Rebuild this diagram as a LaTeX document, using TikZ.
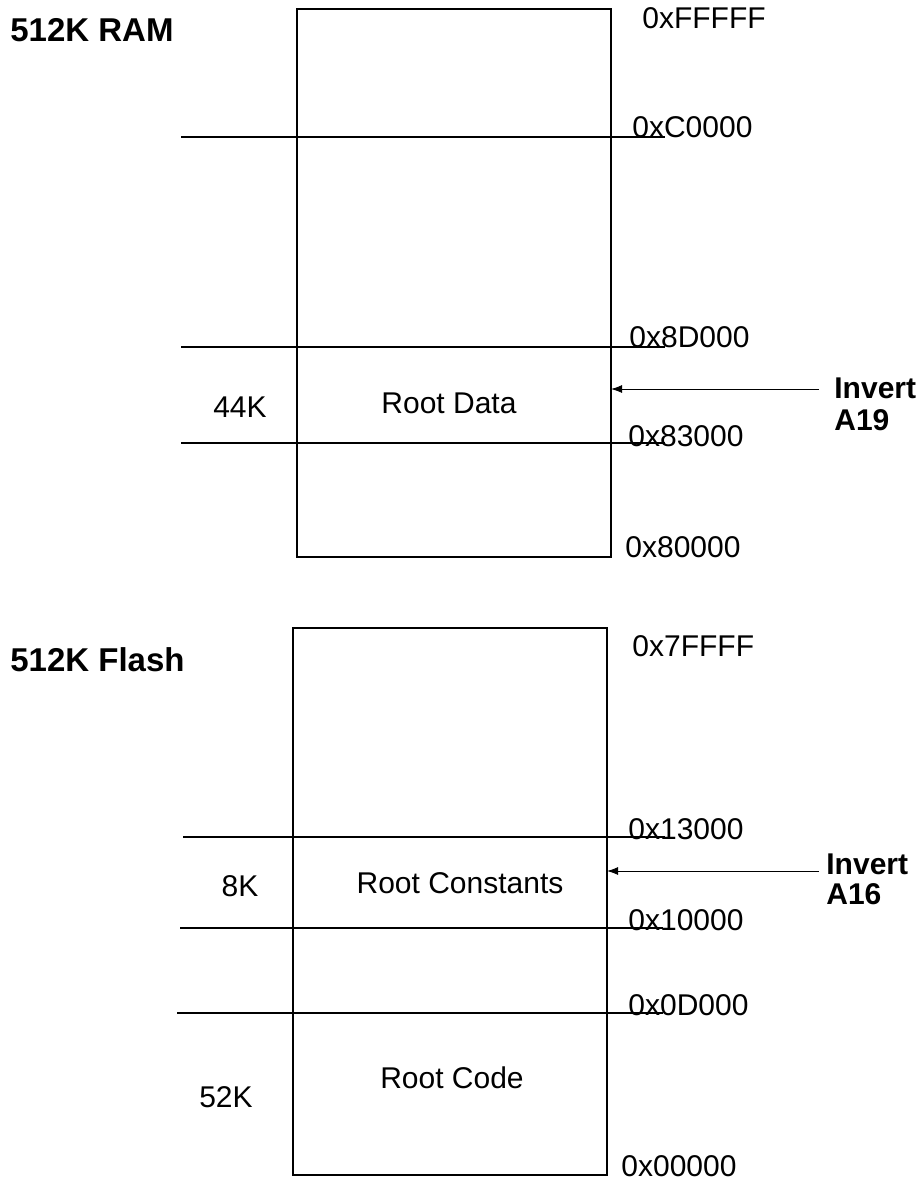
\documentclass[tikz,border=0pt]{standalone}
\usepackage{fontspec}
\setmainfont{Liberation Sans}
\usetikzlibrary{arrows.meta}

\begin{document}
\begin{tikzpicture}[x=0.5pt,y=-0.5pt,font=\fontsize{15}{17}\selectfont,
  bank/.style={draw,line width=0.6pt},
  cut/.style={line width=1pt},
  addr/.style={anchor=base west,inner sep=0pt},
  heading/.style={anchor=west,inner sep=0pt,font=\fontsize{16.5}{19}\selectfont\bfseries},
  invlabel/.style={anchor=west,inner sep=0pt,font=\fontsize{15}{18}\selectfont\bfseries},
  pin/.style={-{Latex[length=5.5pt,width=4pt]},line width=0.5pt}]
\useasboundingbox (0,0) rectangle (923,1180);

% RAM
\node[heading] (ramtitle) at (10,30) {512K RAM};
\draw[bank] (297,9) rectangle (611,557);
\draw[cut] (181,137) -- (665,137);
\draw[cut] (181,347) -- (665,347);
\draw[cut] (181,443) -- (665,443);
\node[addr] (ramtop) at (642,28) {0xFFFFF};
\node[addr] (ramc) at (632,137) {0xC0000};
\node[addr] (ram8d) at (629,347) {0x8D000};
\node[addr] (ram83) at (628,446) {0x83000};
\node[addr] (ram80) at (625,557) {0x80000};
\node (datasize) at (240,407) {44K};
\node (rootdata) at (449,403) {Root Data};
\node[invlabel] (inva) at (834,388) {Invert};
\node[invlabel] (a19) at (834,420) {A19};
\coordinate (a19tail) at (819,389);
\coordinate (a19head) at (611,389);
\draw[pin] (a19tail) -- (a19head);

% Flash
\node[heading] (flashtitle) at (10,660) {512K Flash};
\draw[bank] (293,628) rectangle (607,1175);
\draw[cut] (183,837) -- (665,837);
\draw[cut] (180,928) -- (663,928);
\draw[cut] (177,1013) -- (663,1013);
\node[addr] (flashtop) at (632,656) {0x7FFFF};
\node[addr] (flash13) at (628,839) {0x13000};
\node[addr] (flash10) at (628,930) {0x10000};
\node[addr] (flash0d) at (628,1015) {0x0D000};
\node[addr] (flash00) at (621,1176) {0x00000};
\node (constsize) at (240,886) {8K};
\node (rootconst) at (460,883) {Root Constants};
\node (codesize) at (226,1097) {52K};
\node (rootcode) at (452,1078) {Root Code};
\node[invlabel] (invb) at (826,864) {Invert};
\node[invlabel] (a16) at (826,894) {A16};
\coordinate (a16tail) at (819,871);
\coordinate (a16head) at (607,871);
\draw[pin] (a16tail) -- (a16head);

\end{tikzpicture}
\end{document}
